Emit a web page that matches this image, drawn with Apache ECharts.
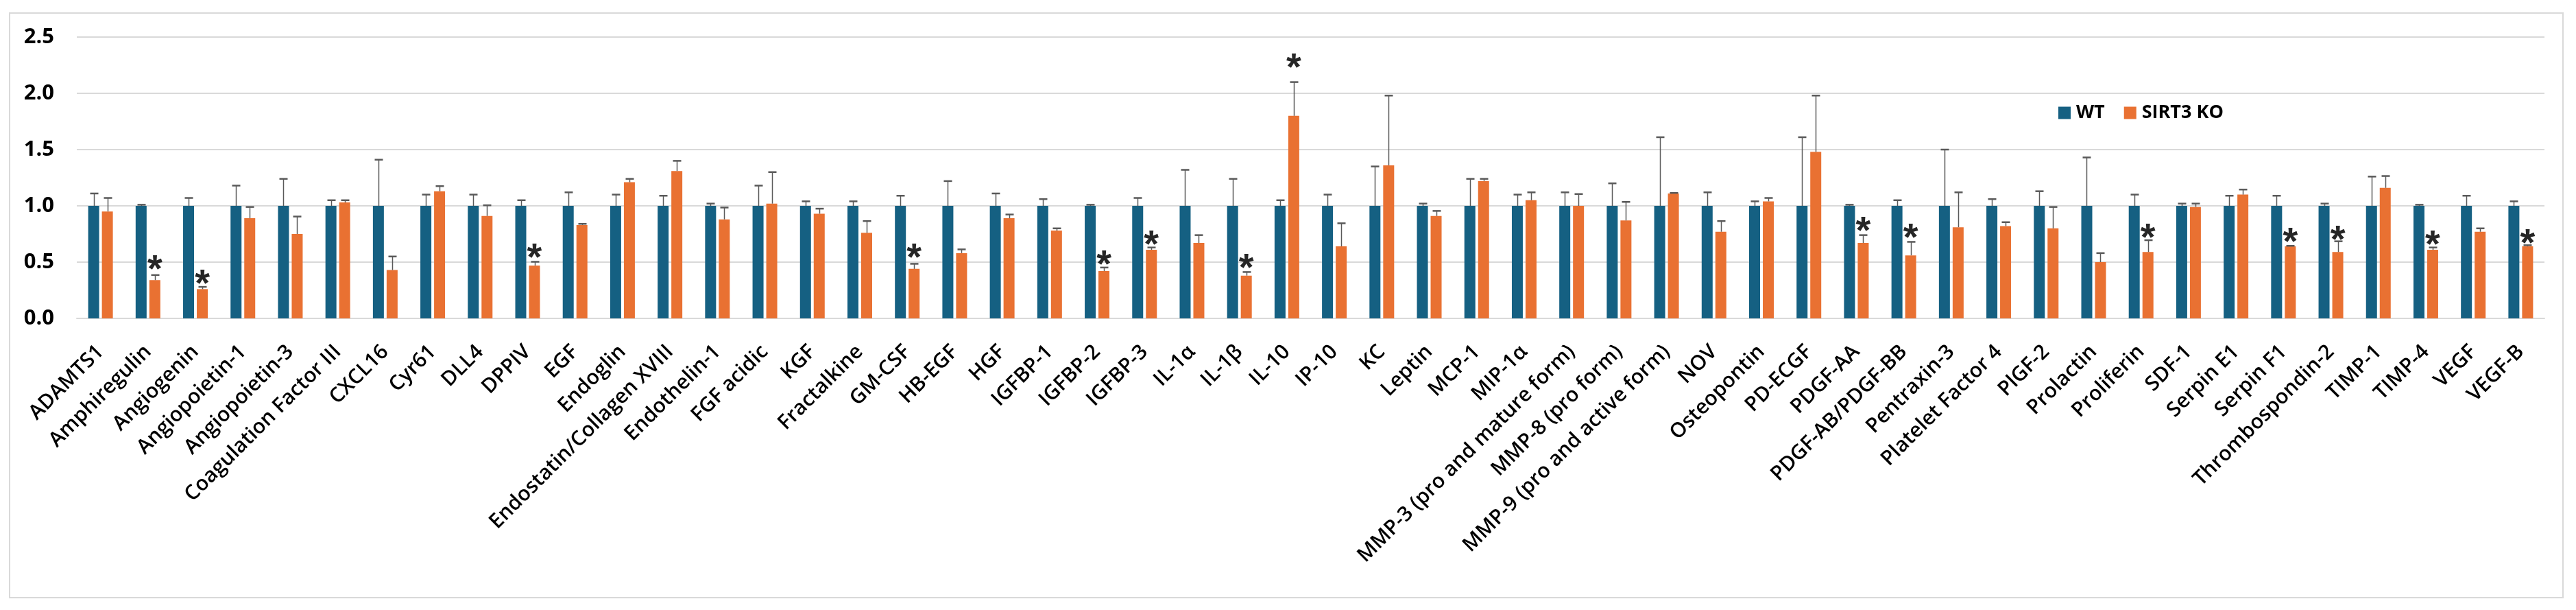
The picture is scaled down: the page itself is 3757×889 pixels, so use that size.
<!DOCTYPE html>
<html>
<head>
<meta charset="utf-8">
<script src="https://cdn.jsdelivr.net/npm/echarts@6/dist/echarts.min.js"></script>
<style>
html,body{margin:0;padding:0;background:#fff;}
#chart{width:3757px;height:889px;}
</style>
</head>
<body>
<div id="chart"></div>
<script>
const categories = ['ADAMTS1','Amphiregulin','Angiogenin','Angiopoietin-1','Angiopoietin-3','Coagulation Factor III','CXCL16','Cyr61','DLL4','DPPIV','EGF','Endoglin','Endostatin/Collagen XVIII','Endothelin-1','FGF acidic','KGF','Fractalkine','GM-CSF','HB-EGF','HGF','IGFBP-1','IGFBP-2','IGFBP-3','IL-1α','IL-1β','IL-10','IP-10','KC','Leptin','MCP-1','MIP-1α','MMP-3 (pro and mature form)','MMP-8 (pro form)','MMP-9 (pro and active form)','NOV','Osteopontin','PD-ECGF','PDGF-AA','PDGF-AB/PDGF-BB','Pentraxin-3','Platelet Factor 4','PlGF-2','Prolactin','Proliferin','SDF-1','Serpin E1','Serpin F1','Thrombospondin-2','TIMP-1','TIMP-4','VEGF','VEGF-B'];

const wtValues = [1,1,1,1,1,1,1,1,1,1,1,1,1,1,1,1,1,1,1,1,1,1,1,1,1,1,1,1,1,1,1,1,1,1,1,1,1,1,1,1,1,1,1,1,1,1,1,1,1,1,1,1];
const wtErr = [0.11,0.01,0.07,0.18,0.24,0.05,0.41,0.10,0.10,0.05,0.12,0.10,0.09,0.02,0.18,0.04,0.04,0.09,0.22,0.11,0.06,0.01,0.07,0.32,0.24,0.05,0.10,0.35,0.02,0.24,0.10,0.12,0.20,0.61,0.12,0.04,0.61,0.01,0.05,0.50,0.06,0.13,0.43,0.10,0.02,0.09,0.09,0.02,0.26,0.01,0.09,0.04];

const koValues = [0.95,0.34,0.26,0.89,0.75,1.03,0.43,1.13,0.91,0.47,0.83,1.21,1.31,0.88,1.02,0.93,0.76,0.44,0.58,0.89,0.78,0.42,0.61,0.67,0.38,1.80,0.64,1.36,0.91,1.22,1.05,1.00,0.87,1.11,0.77,1.04,1.48,0.67,0.56,0.81,0.82,0.80,0.50,0.59,0.99,1.10,0.64,0.59,1.16,0.61,0.77,0.64];
const koErr = [0.12,0.045,0.02,0.10,0.155,0.02,0.12,0.045,0.095,0.033,0.01,0.03,0.09,0.105,0.28,0.045,0.105,0.045,0.033,0.033,0.02,0.032,0.02,0.07,0.032,0.30,0.205,0.62,0.045,0.02,0.07,0.105,0.165,0.005,0.095,0.03,0.50,0.07,0.12,0.31,0.035,0.19,0.08,0.105,0.03,0.045,0.005,0.095,0.105,0.02,0.03,0.01];

// height (axis units) where the significance asterisk sits, null = none
const sigY = [null,0.51,0.38,null,null,null,null,null,null,0.61,null,null,null,null,null,null,null,0.61,null,null,null,0.55,0.73,null,0.52,2.30,null,null,null,null,null,null,null,null,null,null,null,0.85,0.79,null,null,null,null,0.79,null,null,0.75,0.77,null,0.73,null,0.74];

const yTicks = [0, 0.5, 1.0, 1.5, 2.0, 2.5];
const seriesNames = ['WT', 'SIRT3 KO'];

const FONT = "'Open Sans', 'Liberation Sans', Arial, sans-serif";
const BAR_W = 16, BAR_GAP = 4;
const OFF = (BAR_W + BAR_GAP) / 2;

function errSeries(vals, errs, offset) {
  return {
    type: 'custom',
    z: 10,
    silent: true,
    renderItem: function (params, api) {
      const i = api.value(0), v = api.value(1), e = api.value(2);
      const p0 = api.coord([i, v]);
      const p1 = api.coord([i, v + e]);
      const x = Math.round(p0[0] + offset) + 0.5;
      return {
        type: 'group',
        children: [
          { type: 'line', shape: { x1: x, y1: p0[1], x2: x, y2: p1[1] }, style: { stroke: '#595959', lineWidth: 1.5 } },
          { type: 'line', shape: { x1: x - 6, y1: p1[1], x2: x + 6, y2: p1[1] }, style: { stroke: '#595959', lineWidth: 2.5 } }
        ]
      };
    },
    data: vals.map((v, i) => [i, v, errs[i]])
  };
}

const starData = [];
sigY.forEach((y, i) => { if (y !== null) starData.push([i, y]); });

const chart = echarts.init(document.getElementById('chart'), null, { renderer: 'canvas' });
chart.setOption({
  animation: false,
  backgroundColor: '#fff',
  graphic: [{
    type: 'rect', z: -10, silent: true,
    shape: { x: 14, y: 19, width: 3724, height: 852 },
    style: { fill: null, stroke: '#d9d9d9', lineWidth: 2 }
  }],
  legend: {
    data: seriesNames,
    left: 2997, top: 146,
    icon: 'rect', itemWidth: 18, itemHeight: 18, itemGap: 28,
    textStyle: { fontFamily: FONT, fontWeight: 'bold', fontSize: 27, color: '#000', padding: [0, 0, 0, 3] }
  },
  grid: { left: 112, right: 46, top: 54, bottom: 425, containLabel: false },
  xAxis: {
    type: 'category',
    data: categories,
    axisLine: { lineStyle: { color: '#d9d9d9', width: 2 } },
    axisTick: { show: false },
    axisLabel: {
      interval: 0, rotate: 45, margin: 44,
      fontFamily: FONT, fontWeight: 600, fontSize: 30, color: '#000'
    }
  },
  yAxis: {
    type: 'value',
    min: yTicks[0], max: yTicks[yTicks.length - 1], interval: 0.5,
    axisLine: { show: false },
    axisTick: { show: false },
    splitLine: { lineStyle: { color: '#d9d9d9', width: 2 } },
    axisLabel: {
      margin: 33, fontFamily: FONT, fontWeight: 'bold', fontSize: 31, color: '#000',
      formatter: v => v.toFixed(1)
    }
  },
  series: [
    { name: seriesNames[0], type: 'bar', data: wtValues, barWidth: BAR_W, barGap: (BAR_GAP / BAR_W * 100) + '%', itemStyle: { color: '#156082' } },
    { name: seriesNames[1], type: 'bar', data: koValues, barWidth: BAR_W, itemStyle: { color: '#E97132' } },
    errSeries(wtValues, wtErr, -OFF),
    errSeries(koValues, koErr, OFF),
    {
      type: 'custom', z: 11, silent: true,
      renderItem: function (params, api) {
        const p = api.coord([api.value(0), api.value(1)]);
        return {
          type: 'text',
          style: {
            text: '*', x: p[0] + OFF, y: p[1] + 14,
            textAlign: 'center', textVerticalAlign: 'middle',
            font: "bold 56px 'Liberation Sans', Arial, sans-serif", fill: '#262626'
          }
        };
      },
      data: starData
    }
  ]
});
</script>
</body>
</html>
